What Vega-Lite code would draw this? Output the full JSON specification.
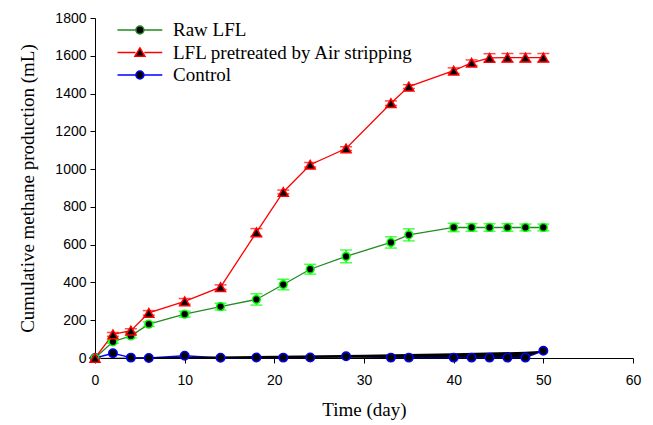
{
  "$schema": "https://vega.github.io/schema/vega-lite/v6.json",
  "width": 538,
  "height": 340,
  "autosize": {"type": "none"},
  "padding": {"left": 95, "top": 18, "right": 20, "bottom": 67},
  "background": "white",
  "config": {
    "view": {"stroke": null},
    "axis": {
      "grid": false,
      "domainColor": "black",
      "domainWidth": 1,
      "tickColor": "black",
      "tickSize": 5,
      "tickWidth": 1,
      "labelFont": "Liberation Sans",
      "labelFontSize": 14,
      "labelColor": "black",
      "labelFlush": false,
      "labelOverlap": false,
      "titleFont": "Liberation Serif",
      "titleFontSize": 19,
      "titleFontWeight": "normal",
      "titleColor": "black"
    },
    "axisY": {"values": [0, 200, 400, 600, 800, 1000, 1200, 1400, 1600, 1800], "format": "d", "labelPadding": 4, "titlePadding": 17}
  },
  "datasets": {
    "main": [
      {"day": 0, "series": "Raw LFL", "y": 0, "lo": 0, "hi": 0},
      {"day": 2, "series": "Raw LFL", "y": 86, "lo": 78, "hi": 94},
      {"day": 4, "series": "Raw LFL", "y": 117, "lo": 107, "hi": 127},
      {"day": 6, "series": "Raw LFL", "y": 179, "lo": 167, "hi": 191},
      {"day": 10, "series": "Raw LFL", "y": 232, "lo": 216, "hi": 248},
      {"day": 14, "series": "Raw LFL", "y": 272, "lo": 254, "hi": 290},
      {"day": 18, "series": "Raw LFL", "y": 310, "lo": 280, "hi": 340},
      {"day": 21, "series": "Raw LFL", "y": 389, "lo": 361, "hi": 417},
      {"day": 24, "series": "Raw LFL", "y": 470, "lo": 444, "hi": 496},
      {"day": 28, "series": "Raw LFL", "y": 538, "lo": 504, "hi": 572},
      {"day": 33, "series": "Raw LFL", "y": 612, "lo": 582, "hi": 642},
      {"day": 35, "series": "Raw LFL", "y": 652, "lo": 620, "hi": 684},
      {"day": 40, "series": "Raw LFL", "y": 691, "lo": 669, "hi": 713},
      {"day": 42, "series": "Raw LFL", "y": 691, "lo": 671, "hi": 711},
      {"day": 44, "series": "Raw LFL", "y": 691, "lo": 671, "hi": 711},
      {"day": 46, "series": "Raw LFL", "y": 691, "lo": 671, "hi": 711},
      {"day": 48, "series": "Raw LFL", "y": 691, "lo": 673, "hi": 709},
      {"day": 50, "series": "Raw LFL", "y": 691, "lo": 673, "hi": 709},
      {"day": 0, "series": "LFL pretreated by Air stripping", "y": 0, "lo": 0, "hi": 0},
      {"day": 2, "series": "LFL pretreated by Air stripping", "y": 125, "lo": 115, "hi": 135},
      {"day": 4, "series": "LFL pretreated by Air stripping", "y": 145, "lo": 135, "hi": 155},
      {"day": 6, "series": "LFL pretreated by Air stripping", "y": 239, "lo": 227, "hi": 251},
      {"day": 10, "series": "LFL pretreated by Air stripping", "y": 300, "lo": 285, "hi": 315},
      {"day": 14, "series": "LFL pretreated by Air stripping", "y": 375, "lo": 363, "hi": 387},
      {"day": 18, "series": "LFL pretreated by Air stripping", "y": 665, "lo": 645, "hi": 685},
      {"day": 21, "series": "LFL pretreated by Air stripping", "y": 879, "lo": 869, "hi": 889},
      {"day": 24, "series": "LFL pretreated by Air stripping", "y": 1023, "lo": 1011, "hi": 1035},
      {"day": 28, "series": "LFL pretreated by Air stripping", "y": 1109, "lo": 1099, "hi": 1119},
      {"day": 33, "series": "LFL pretreated by Air stripping", "y": 1349, "lo": 1337, "hi": 1361},
      {"day": 35, "series": "LFL pretreated by Air stripping", "y": 1437, "lo": 1427, "hi": 1447},
      {"day": 40, "series": "LFL pretreated by Air stripping", "y": 1521, "lo": 1506, "hi": 1536},
      {"day": 42, "series": "LFL pretreated by Air stripping", "y": 1563, "lo": 1548, "hi": 1578},
      {"day": 44, "series": "LFL pretreated by Air stripping", "y": 1589, "lo": 1567, "hi": 1611},
      {"day": 46, "series": "LFL pretreated by Air stripping", "y": 1590, "lo": 1568, "hi": 1612},
      {"day": 48, "series": "LFL pretreated by Air stripping", "y": 1590, "lo": 1568, "hi": 1612},
      {"day": 50, "series": "LFL pretreated by Air stripping", "y": 1590, "lo": 1568, "hi": 1612},
      {"day": 0, "series": "\u00a0Control", "y": 0, "lo": 0, "hi": 0},
      {"day": 2, "series": "\u00a0Control", "y": 25, "lo": 25, "hi": 25},
      {"day": 4, "series": "\u00a0Control", "y": 2, "lo": 2, "hi": 2},
      {"day": 6, "series": "\u00a0Control", "y": 0, "lo": 0, "hi": 0},
      {"day": 10, "series": "\u00a0Control", "y": 12, "lo": 12, "hi": 12},
      {"day": 14, "series": "\u00a0Control", "y": 1, "lo": 1, "hi": 1},
      {"day": 18, "series": "\u00a0Control", "y": 3, "lo": 3, "hi": 3},
      {"day": 21, "series": "\u00a0Control", "y": 2, "lo": 2, "hi": 2},
      {"day": 24, "series": "\u00a0Control", "y": 3, "lo": 3, "hi": 3},
      {"day": 28, "series": "\u00a0Control", "y": 9, "lo": 9, "hi": 9},
      {"day": 33, "series": "\u00a0Control", "y": 2, "lo": 2, "hi": 2},
      {"day": 35, "series": "\u00a0Control", "y": 2, "lo": 2, "hi": 2},
      {"day": 40, "series": "\u00a0Control", "y": 2, "lo": 2, "hi": 2},
      {"day": 42, "series": "\u00a0Control", "y": 2, "lo": 2, "hi": 2},
      {"day": 44, "series": "\u00a0Control", "y": 2, "lo": 2, "hi": 2},
      {"day": 46, "series": "\u00a0Control", "y": 2, "lo": 2, "hi": 2},
      {"day": 48, "series": "\u00a0Control", "y": 2, "lo": 2, "hi": 2},
      {"day": 50, "series": "\u00a0Control", "y": 38, "lo": 38, "hi": 38}
    ],
    "wedge": [
      {"day": 0, "top": 0, "bottom": 0},
      {"day": 30, "top": 17, "bottom": 1},
      {"day": 40, "top": 25, "bottom": 2},
      {"day": 48, "top": 33, "bottom": 2},
      {"day": 50, "top": 38, "bottom": 38}
    ]
  },
  "encoding": {
    "x": {
      "field": "day",
      "type": "quantitative",
      "scale": {"domain": [0, 60], "nice": false, "zero": false},
      "axis": {"title": "Time (day)", "values": [0, 10, 20, 30, 40, 50, 60], "labelPadding": 10, "titlePadding": 13}
    }
  },
  "layer": [
    {
      "data": {"name": "main"},
      "mark": {"type": "line", "strokeWidth": 1.3},
      "encoding": {
        "y": {
          "field": "y",
          "type": "quantitative",
          "title": "Cumulative methane production (mL)",
          "scale": {"domain": [0, 1800], "nice": false},
          "axis": {"values": [0, 200, 400, 600, 800, 1000, 1200, 1400, 1600, 1800], "format": "d"}
        },
        "color": {
          "field": "series",
          "type": "nominal",
          "scale": {"domain": ["Raw LFL", "LFL pretreated by Air stripping", "\u00a0Control"], "range": ["#228B22", "#FF0000", "#0000FF"]},
          "legend": {
            "title": null,
            "orient": "none",
            "legendX": 13,
            "legendY": 2.5,
            "padding": 0,
            "labelFont": "Liberation Serif",
            "labelFontSize": 19,
            "labelColor": "black",
            "labelLimit": 500,
            "labelOffset": 46,
            "rowPadding": 2.5,
            "encode": {
              "symbols": {
                "update": {
                  "shape": {"signal": "datum.value === 'LFL pretreated by Air stripping' ? 'M0,0H4.5M6.7,0H11.2M5.6,-1.15L6.85,0.95L4.35,0.95Z' : 'M0,0H4.6M6.6,0H11.2M4.6,0A1,1 0 1,0 6.6,0A1,1 0 1,0 4.6,0Z'"},
                  "fill": {"value": "black"},
                  "fillOpacity": {"value": 1},
                  "strokeWidth": {"value": 1.5},
                  "size": {"value": 64}
                }
              }
            }
          }
        }
      }
    },
    {
      "data": {"name": "wedge"},
      "mark": {"type": "area", "color": "black", "opacity": 1},
      "encoding": {
        "y": {"field": "top", "type": "quantitative", "title": "Cumulative methane production (mL)", "axis": {"values": [0, 200, 400, 600, 800, 1000, 1200, 1400, 1600, 1800], "format": "d"}},
        "y2": {"field": "bottom"}
      }
    },
    {
      "data": {"name": "main"},
      "transform": [{"filter": "datum.series === 'Raw LFL'"}],
      "mark": {"type": "errorbar", "ticks": {"size": 12}, "thickness": 1.5, "color": "#00FF00"},
      "encoding": {
        "y": {"field": "lo", "type": "quantitative", "title": "Cumulative methane production (mL)", "axis": {"values": [0, 200, 400, 600, 800, 1000, 1200, 1400, 1600, 1800], "format": "d"}},
        "y2": {"field": "hi"}
      }
    },
    {
      "data": {"name": "main"},
      "transform": [{"filter": "datum.series === 'LFL pretreated by Air stripping'"}],
      "mark": {"type": "errorbar", "ticks": {"size": 12}, "thickness": 1.5, "color": "#FF0000"},
      "encoding": {
        "y": {"field": "lo", "type": "quantitative", "title": "Cumulative methane production (mL)", "axis": {"values": [0, 200, 400, 600, 800, 1000, 1200, 1400, 1600, 1800], "format": "d"}},
        "y2": {"field": "hi"}
      }
    },
    {
      "data": {"name": "main"},
      "transform": [{"filter": "datum.series !== 'Raw LFL' && datum.series !== 'LFL pretreated by Air stripping'"}],
      "mark": {"type": "point", "shape": "circle", "size": 72, "fill": "black", "fillOpacity": 1, "opacity": 1, "strokeWidth": 1.5, "stroke": "#0000FF"},
      "encoding": {
        "y": {"field": "y", "type": "quantitative", "title": "Cumulative methane production (mL)", "axis": {"values": [0, 200, 400, 600, 800, 1000, 1200, 1400, 1600, 1800], "format": "d"}}
      }
    },
    {
      "data": {"name": "main"},
      "transform": [{"filter": "datum.series === 'Raw LFL'"}],
      "mark": {"type": "point", "shape": "circle", "size": 60, "fill": "black", "fillOpacity": 1, "opacity": 1, "strokeWidth": 1.5, "stroke": "#00FF00"},
      "encoding": {
        "y": {"field": "y", "type": "quantitative", "title": "Cumulative methane production (mL)", "axis": {"values": [0, 200, 400, 600, 800, 1000, 1200, 1400, 1600, 1800], "format": "d"}}
      }
    },
    {
      "data": {"name": "main"},
      "transform": [{"filter": "datum.series === 'LFL pretreated by Air stripping'"}],
      "mark": {"type": "point", "shape": "triangle-up", "size": 100, "fill": "black", "fillOpacity": 1, "opacity": 1, "strokeWidth": 1.5, "stroke": "#FF0000"},
      "encoding": {
        "y": {"field": "y", "type": "quantitative", "title": "Cumulative methane production (mL)", "axis": {"values": [0, 200, 400, 600, 800, 1000, 1200, 1400, 1600, 1800], "format": "d"}}
      }
    }
  ]
}
